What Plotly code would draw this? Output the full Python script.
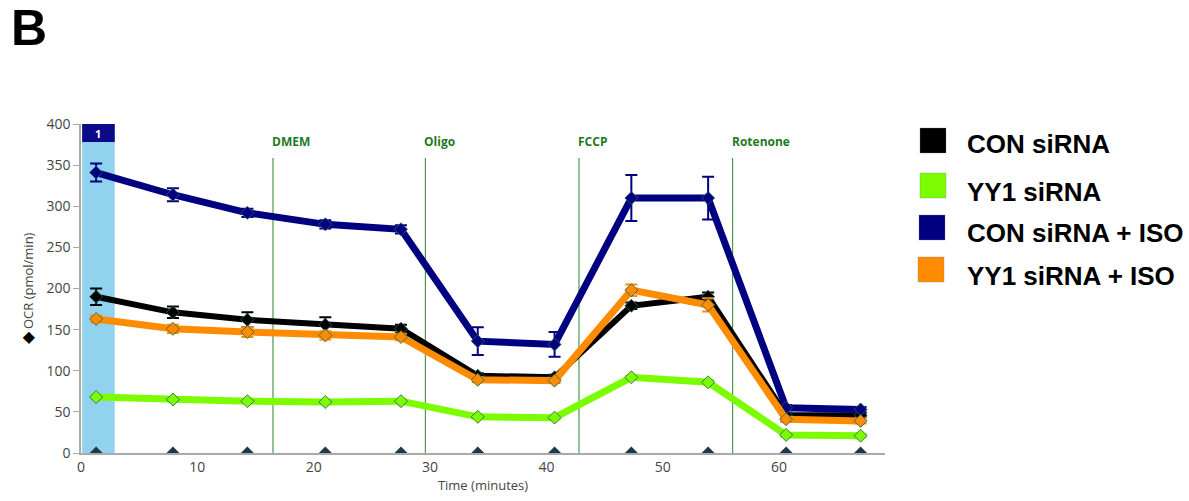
import plotly.graph_objects as go

# ---- data ----
times = [1.3, 7.9, 14.3, 21.0, 27.5, 34.1, 40.7, 47.3, 53.9, 60.6, 67.0]

series_names = ["CON siRNA", "YY1 siRNA", "CON siRNA + ISO", "YY1 siRNA + ISO"]
series_colors = ["#000000", "#7CFC00", "#000080", "#FF8C00"]

con_sirna = [190, 171, 162, 156, 151, 94, 92, 179, 190, 46, 46]
con_sirna_err = [10, 7, 9, 9, 5, 3, 3, 4, 5, 2, 2]

yy1_sirna = [68, 65, 63, 62, 63, 44, 43, 92, 86, 22, 21]
yy1_sirna_err = [2, 2, 2, 2, 2, 2, 2, 2, 2, 2, 2]

con_iso = [341, 314, 292, 278, 272, 136, 132, 310, 310, 55, 53]
con_iso_err = [11, 8, 5, 5, 5, 17, 15, 28, 26, 3, 3]

yy1_iso = [163, 151, 147, 143, 141, 89, 88, 198, 180, 41, 39]
yy1_iso_err = [4, 5, 6, 5, 4, 3, 3, 7, 8, 3, 3]

injection_names = ["DMEM", "Oligo", "FCCP", "Rotenone"]
injection_times = [16.5, 29.6, 42.8, 56.0]

x_ticks = [0, 10, 20, 30, 40, 50, 60]
y_ticks = [0, 50, 100, 150, 200, 250, 300, 350, 400]

values = [con_sirna, yy1_sirna, con_iso, yy1_iso]
errors = [con_sirna_err, yy1_sirna_err, con_iso_err, yy1_iso_err]
widths = [6, 7, 7, 7]

fig = go.Figure()

for name, col, v, e, w in zip(series_names, series_colors, values, errors, widths):
    fig.add_trace(go.Scatter(
        x=times, y=v, name=name, mode="lines+markers",
        line=dict(color=col, width=w),
        marker=dict(symbol="diamond", size=10, color=col,
                    line=dict(color="rgba(40,100,90,0.85)", width=1)),
        error_y=dict(type="data", array=e, visible=True, color=col,
                     thickness=2, width=6),
        showlegend=False,
    ))

# baseline markers
fig.add_trace(go.Scatter(
    x=times, y=[0] * len(times), mode="markers",
    marker=dict(symbol="diamond", size=10, color="#1d3a48"),
    showlegend=False, cliponaxis=True,
))

W, H = 1189, 501
L, T = 81, 124
R = W - 885
B = H - 453
pw, ph = W - L - R, H - T - B


def px(x):
    return (x - L) / pw


def py(y):
    return (H - B - y) / ph


shapes = []
annotations = []

# measurement band
shapes.append(dict(type="rect", xref="x", yref="y", x0=0.1, x1=2.9, y0=0, y1=400,
                   fillcolor="#91D2EE", line=dict(width=0), layer="below"))
shapes.append(dict(type="rect", xref="x", yref="paper", x0=0.1, x1=2.9,
                   y0=py(142), y1=1.0, fillcolor="#0B0B8A", line=dict(width=0),
                   layer="above"))
annotations.append(dict(x=1.5, y=py(133), xref="x", yref="paper",
                        text="<b>1</b>", showarrow=False, yanchor="middle",
                        font=dict(family="Open Sans", size=11, color="white")))

# injection lines
for n, t in zip(injection_names, injection_times):
    shapes.append(dict(type="line", xref="x", yref="paper", x0=t, x1=t,
                       y0=0, y1=py(158), line=dict(color="#4A9A4A", width=1.2),
                       layer="below"))
    annotations.append(dict(x=t, y=py(141), xref="x", yref="paper",
                            text="<b>" + n + "</b>", showarrow=False,
                            xanchor="left", yanchor="middle", xshift=-3,
                            font=dict(family="Open Sans", size=12, color="#1E7A1E")))

# custom legend
sq = [(920, 128), (920, 173), (919, 215), (918, 257)]
txt_y = [144, 192, 233, 276]
for (sx, sy), ty, n, c in zip(sq, txt_y, series_names, series_colors):
    shapes.append(dict(type="rect", xref="paper", yref="paper",
                       x0=px(sx), x1=px(sx + 26), y0=py(sy + 25), y1=py(sy),
                       fillcolor=c, line=dict(color="rgba(120,120,120,0.3)", width=1)))
    annotations.append(dict(x=px(965), y=py(ty), xref="paper", yref="paper",
                            text="<b>" + n + "</b>", showarrow=False,
                            xanchor="left", yanchor="middle",
                            font=dict(family="Liberation Sans, Arial", size=26,
                                      color="black")))

# panel letter
annotations.append(dict(x=px(9), y=py(28), xref="paper", yref="paper",
                        text="<b>B</b>", showarrow=False, xanchor="left",
                        yanchor="middle",
                        font=dict(family="Liberation Sans, Arial", size=50,
                                  color="black")))

fig.update_layout(
    width=W, height=H,
    margin=dict(l=L, r=R, t=T, b=B, autoexpand=False),
    paper_bgcolor="white", plot_bgcolor="white",
    shapes=shapes, annotations=annotations,
    font=dict(family="Open Sans", size=13, color="#444"),
)

fig.update_xaxes(range=[0, 69.1], tickvals=x_ticks, showgrid=False, zeroline=False,
                 showline=True, linecolor="#AAAAAA", linewidth=1.5, ticks="",
                 tickfont=dict(size=14, color="#444"), automargin=False,
                 title=dict(text="Time (minutes)", font=dict(size=13, color="#444"),
                            standoff=2))
fig.update_yaxes(range=[0, 400], tickvals=y_ticks, showgrid=False, zeroline=False,
                 showline=True, linecolor="#AAAAAA", linewidth=1.5, ticks="outside",
                 ticklen=6, tickcolor="#AAAAAA", automargin=False,
                 tickfont=dict(size=14, color="#444"),
                 title=dict(text="<span style='color:black;font-size:16px'>◆</span> OCR (pmol/min)",
                            font=dict(size=13, color="#444"), standoff=10))

fig.write_html("out.html",
               config={"displayModeBar": False},
               post_script="document.body.style.margin='0';document.body.style.overflow='hidden';")
